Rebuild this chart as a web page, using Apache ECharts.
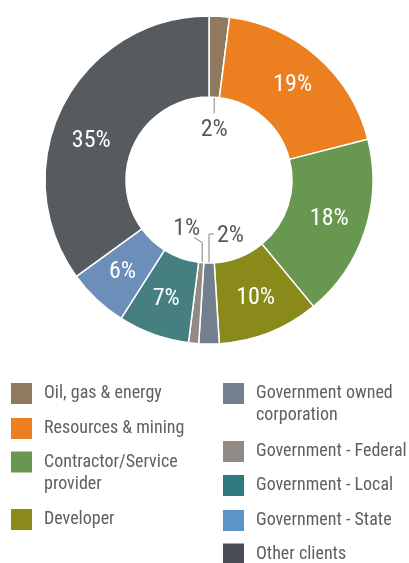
<!DOCTYPE html>
<html><head><meta charset="utf-8">
<script src="https://cdn.jsdelivr.net/npm/echarts@6/dist/echarts.min.js"></script>
<style>html,body{margin:0;padding:0;background:#fff}#c{width:409px;height:563px}</style>
</head><body><div id="c"></div>
<script>
// ---- data ----
const categories = ['Oil, gas & energy','Resources & mining','Contractor/Service provider','Developer','Government owned corporation','Government - Federal','Government - Local','Government - State','Other clients'];
const values = [2, 19, 18, 10, 2, 1, 7, 6, 35];
const legendLabels = ['Oil, gas & energy','Resources & mining','Contractor/Service\nprovider','Developer','Government owned\ncorporation','Government - Federal','Government - Local','Government - State','Other clients'];

// ---- style ----
const sliceColors = ['#8F7A60','#EC7F20','#68984F','#8A8A1B','#737F8C','#928A84','#457F7F','#6C8FBA','#565B5F'];
const legendColors = ['#8F7A60','#EC7F20','#68984F','#8A8A1B','#737F8C','#928A84','#2E7A7E','#5B95C8','#4A4D55'];
const FONT = "'Roboto Condensed','DejaVu Sans Condensed',sans-serif";
const CX = 209, CY = 180, R0 = 83, R1 = 164;
const smallIdx = [0, 4, 5];
const legendLayout = [
  {left: 11, cy: 393.5}, {left: 11, cy: 428.5}, {left: 11, cy: 462, lines: 2}, {left: 11, cy: 519.5},
  {left: 223, cy: 393.5, lines: 2}, {left: 223, cy: 451.5}, {left: 223, cy: 485.5}, {left: 223, cy: 520.5}, {left: 223, cy: 554}
];

const total = values.reduce((a, b) => a + b, 0);
function midAngle(i) {
  let before = 0;
  for (let j = 0; j < i; j++) before += values[j];
  return (before + values[i] / 2) / total * 2 * Math.PI;
}
function pt(a, r) { return [CX + r * Math.sin(a), CY - r * Math.cos(a)]; }

const pieData = categories.map((name, i) => {
  const d = {name, value: values[i], itemStyle: {color: sliceColors[i]}};
  if (smallIdx.includes(i)) {
    d.label = {position: 'outside', color: '#58595B'};
    d.labelLine = {show: true, length: 5, length2: 5, lineStyle: {color: '#808080', width: 1}};
  }
  return d;
});

const legends = categories.map((name, i) => {
  const L = legendLayout[i];
  const two = L.lines === 2;
  return {
    data: [{name, itemStyle: {color: legendColors[i], borderWidth: 0}}],
    left: L.left, top: two ? L.cy - 33 : L.cy - 11,
    orient: 'vertical', padding: 0, itemWidth: 21, itemHeight: 21, icon: 'rect',
    selectedMode: false,
    itemStyle: {borderWidth: 0},
    // a leading empty line puts the first text line level with the swatch
    formatter: n => (two ? '\n' : '') + legendLabels[categories.indexOf(n)],
    textStyle: {fontSize: 18, lineHeight: 22, color: '#5E5F61', fontFamily: FONT, padding: [0, 0, 0, 7]}
  };
});

const chart = echarts.init(document.getElementById('c'));
chart.setOption({
  animation: false,
  legend: legends,
  series: [{
    type: 'pie',
    center: [CX, CY], radius: [R0, R1],
    startAngle: 90, clockwise: true,
    avoidLabelOverlap: false,
    itemStyle: {borderColor: '#fff', borderWidth: 1.5},
    label: {position: 'inside', formatter: '{c}%', color: '#fff', fontSize: 24, fontFamily: FONT},
    labelLine: {show: false},
    emphasis: {disabled: true},
    labelLayout: function (p) {
      const i = p.dataIndex;
      const s = pt(midAngle(i), R0);
      if (i === 0) {
        return {x: s[0], y: s[1] + 33, align: 'center', verticalAlign: 'middle',
          labelLinePoints: [[s[0], s[1]], [s[0], s[1] + 16], [s[0], s[1] + 16]]};
      }
      if (i === 4) {
        return {x: s[0] + 8, y: s[1] - 27, align: 'left', verticalAlign: 'middle',
          labelLinePoints: [[s[0], s[1]], [s[0], s[1] - 29], [s[0] + 5, s[1] - 29]]};
      }
      if (i === 5) {
        return {x: s[0] - 1, y: s[1] - 34, align: 'right', verticalAlign: 'middle',
          labelLinePoints: [[s[0] + 1, s[1]], [s[0] + 1, s[1] - 20], [s[0] - 7, s[1] - 25]]};
      }
      if (i === 8) {
        return {dx: -5, dy: 18};
      }
      return {};
    },
    data: pieData
  }]
});
</script>
</body></html>
